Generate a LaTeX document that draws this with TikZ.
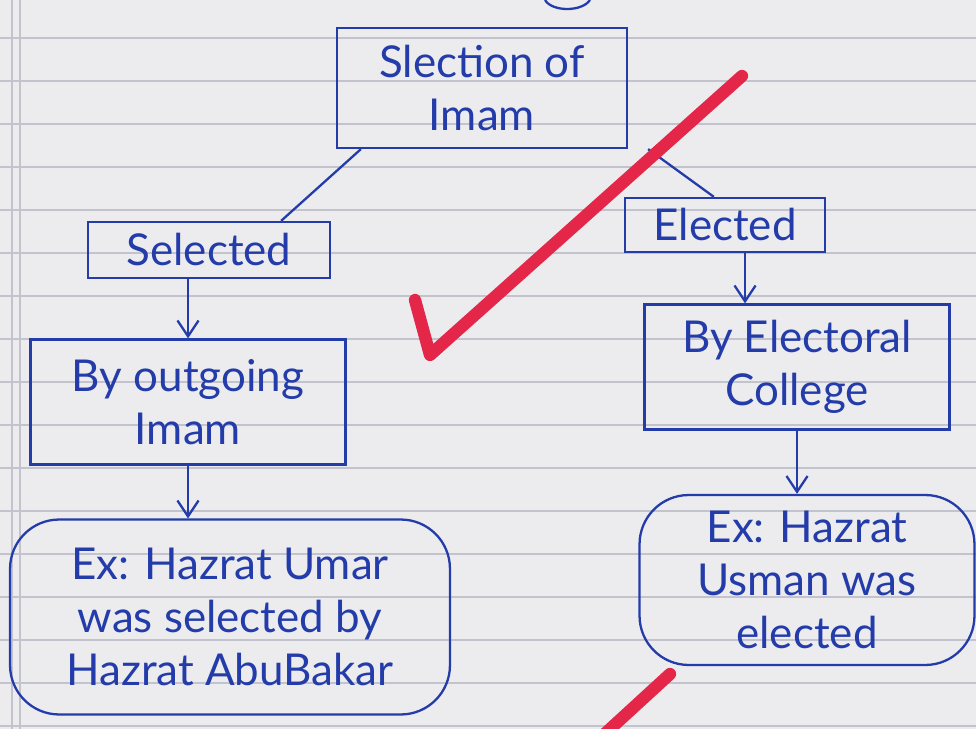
\documentclass[tikz,border=0pt]{standalone}
\usepackage{fontspec}
\setmainfont{Lato}
\usetikzlibrary{arrows.meta}
\definecolor{ink}{RGB}{35,60,170}
\definecolor{paper}{RGB}{236,236,238}
\definecolor{rule}{RGB}{195,195,205}
\definecolor{tick}{RGB}{228,38,72}
\begin{document}
\begin{tikzpicture}[x=0.02cm,y=-0.02cm,
  box/.style={draw=ink, line width=1.3pt, align=center, text=ink,
    font=\fontsize{25}{30}\selectfont, inner sep=2pt},
  roundbox/.style={box, rounded corners=28pt},
  conn/.style={draw=ink, line width=1.3pt},
  arr/.style={conn, -{Straight Barb[length=9pt,width=12pt]}},
  check/.style={draw=tick, line width=7pt, line cap=round, line join=round}]
\useasboundingbox (0,0) rectangle (976,729);
\fill[paper] (0,0) rectangle (976,729);
\foreach \y in {38,81,...,729} \draw[rule, line width=0.8pt] (0,\y) -- (976,\y);
\draw[rule, line width=0.8pt] (12,0) -- (12,729);
\draw[rule, line width=0.8pt] (20,0) -- (20,729);
% small arc at top
\draw[conn] (545,0) .. controls (552,12) and (582,12) .. (590,0);
% nodes
\node[box, minimum width=5.8cm, minimum height=2.4cm] (top) at (482,88) {Slection of\\Imam};
\node[box, minimum width=4.84cm, minimum height=1.12cm] (sel) at (209,250) {Selected};
\node[box, minimum width=4cm, minimum height=1.08cm] (ele) at (725,225) {Elected};
\node[box, minimum width=6.3cm, minimum height=2.5cm] (out) at (188,402) {By outgoing\\Imam};
\node[box, minimum width=6.1cm, minimum height=2.5cm] (col) at (797,367) {By Electoral\\College};
\node[roundbox, minimum width=8.8cm, minimum height=3.9cm] (exu) at (230,617) {Ex: Hazrat Umar\\was selected by\\Hazrat AbuBakar};
\node[roundbox, minimum width=6.7cm, minimum height=3.4cm] (exo) at (807,580) {Ex: Hazrat\\Usman was\\elected};
% connectors
\draw[conn] ([xshift=0.5cm]top.south west) -- ([xshift=-1cm]sel.north east);
\draw[conn] ([xshift=0.4cm]top.south east) -- ([xshift=1.8cm]ele.north west);
\draw[arr] (out.north |- sel.south) -- (out.north);
\draw[arr] (out.south) -- (out.south |- exu.north);
\draw[arr] ([xshift=0.4cm]ele.south) -- ([xshift=0.4cm]ele.south |- col.north);
\draw[arr] (col.south) -- (col.south |- exo.north);
% red ticks
\draw[check] (415,300) -- (430,355) -- (742,76);
\draw[check] (598,740) -- (670,674);
\end{tikzpicture}
\end{document}
